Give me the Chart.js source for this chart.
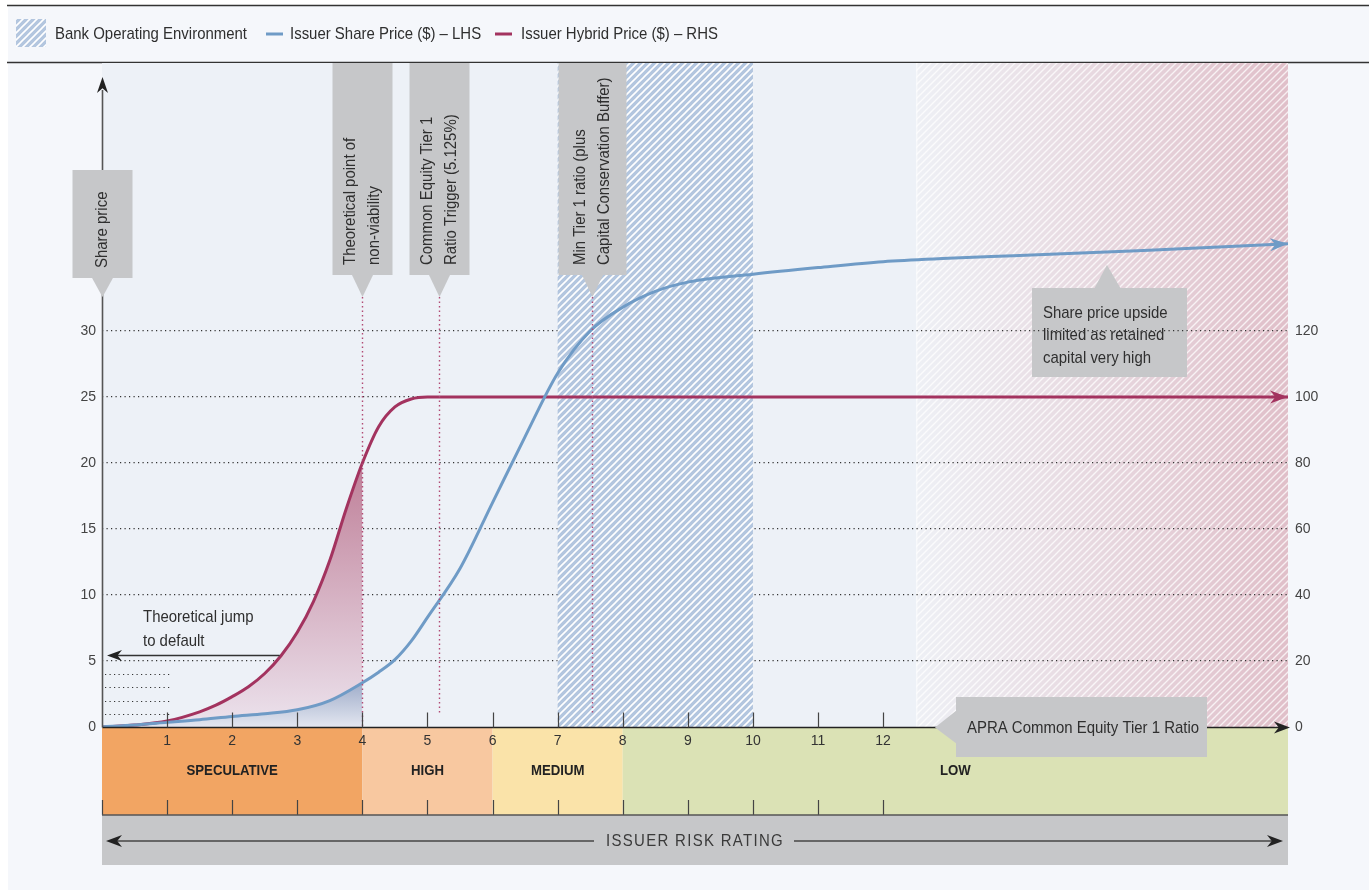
<!DOCTYPE html>
<html>
<head>
<meta charset="utf-8">
<script src="https://cdn.jsdelivr.net/npm/chart.js@4.4.1/dist/chart.umd.min.js"></script>
<style>
  html, body { margin: 0; padding: 0; background: #fff; }
  canvas { display: block; }
</style>
</head>
<body>
<canvas id="capitalChart" width="1369" height="890"></canvas>
<script>
// Issuer share / hybrid price against APRA CET1 ratio

// x = CET1 ratio (%), share price on LHS ($), hybrid price on RHS ($)
const shareX = [0, 0.5, 1, 1.5, 2, 2.5, 3, 3.5, 4, 4.25, 4.5, 4.75, 5, 5.5, 6, 6.5, 7, 7.5, 8, 8.5, 9, 10, 11, 12, 13, 14, 16, 18.22];
const shareY = [0, 0.15, 0.35, 0.55, 0.8, 1.0, 1.3, 2.0, 3.35, 4.15, 5.1, 6.5, 8.3, 12.0, 17.0, 22.0, 26.8, 30.0, 31.8, 33.0, 33.7, 34.3, 34.8, 35.25, 35.5, 35.7, 36.1, 36.6];
const hybridX = [0, 0.5, 1, 1.5, 1.75, 2, 2.25, 2.5, 2.75, 3, 3.25, 3.5, 3.75, 4, 4.25, 4.5, 4.75, 5, 8, 12, 18.22];
const hybridY = [0, 0.6, 1.8, 4.6, 6.6, 9.2, 12.2, 16.2, 21.6, 28.7, 38.1, 50.5, 66, 80, 91, 97, 99.4, 100, 100, 100, 100];

const ratioTicks = [1, 2, 3, 4, 5, 6, 7, 8, 9, 10, 11, 12];
const xMax = 18.22;
const leftMax = 50.3;
const rightMax = leftMax * 4;
const leftShown = 30;
const rightShown = 120;

const riskBands = ['SPECULATIVE', 'HIGH', 'MEDIUM', 'LOW'];
const riskEdges = [0, 4, 6, 8, xMax];
const riskColors = ['#f2a563', '#f8c8a0', '#fae3a9', '#dbe2b5'];

const bankEnvBand = [7, 10];
const lowRiskBand = [12.51, xMax];

const markerX = [4, 5.17, 7.52];
const markerText = [
  ['Theoretical point of', 'non-viability'],
  ['Common Equity Tier 1', 'Ratio Trigger (5.125%)'],
  ['Min Tier 1 ratio (plus', 'Capital Conservation Buffer)']
];
const legendText = ['Bank Operating Environment', 'Issuer Share Price ($) \u2013 LHS', 'Issuer Hybrid Price ($) \u2013 RHS'];

const BASE = '"Liberation Sans", Arial, sans-serif';
const BLUE = '#6f9bc6';
const RED = '#a3335f';
const BOX = '#c6c7c9';
const INK = '#2f2f2f';
let SX = 0.85; // horizontal squeeze to get a condensed face

function pts(xs, ys, n) {
  return xs.slice(0, n || xs.length).map((v, i) => ({ x: v, y: ys[i] }));
}

// condensed text: draw a regular face squeezed horizontally
function say(ctx, s, x, y, size, o) {
  o = o || {};
  ctx.save();
  ctx.font = (o.bold ? 'bold ' : '') + size + 'px ' + BASE;
  ctx.fillStyle = o.color || INK;
  ctx.textBaseline = 'middle';
  ctx.textAlign = 'left';
  if (o.spacing) ctx.letterSpacing = o.spacing;
  const w = ctx.measureText(s).width * SX;
  const x0 = o.align === 'center' ? x - w / 2 : o.align === 'right' ? x - w : x;
  ctx.translate(x0, y);
  ctx.scale(SX, 1);
  ctx.fillText(s, 0, 0);
  ctx.restore();
  return w;
}

function hatch(ctx, base, stripe, gap, width) {
  const c = document.createElement('canvas');
  c.width = c.height = gap;
  const g = c.getContext('2d');
  if (base) { g.fillStyle = base; g.fillRect(0, 0, gap, gap); }
  g.strokeStyle = stripe;
  g.lineWidth = width;
  g.beginPath();
  g.moveTo(-1, gap + 1); g.lineTo(gap + 1, -1);
  g.moveTo(-1, 1); g.lineTo(1, -1);
  g.moveTo(gap - 1, gap + 1); g.lineTo(gap + 1, gap - 1);
  g.stroke();
  return ctx.createPattern(c, 'repeat');
}

function arrowHead(ctx, x, y, ang, len, half, color) {
  ctx.save();
  ctx.translate(x, y);
  ctx.rotate(ang);
  ctx.fillStyle = color;
  ctx.beginPath();
  ctx.moveTo(0, 0);
  ctx.lineTo(-len, -half);
  ctx.lineTo(-len * 0.7, 0);
  ctx.lineTo(-len, half);
  ctx.closePath();
  ctx.fill();
  ctx.restore();
}

function vCallout(ctx, cx, top, bottom, w, tipY, lines) {
  ctx.fillStyle = BOX;
  ctx.fillRect(cx - w / 2, top, w, bottom - top);
  ctx.beginPath();
  ctx.moveTo(cx - 11, bottom - 1);
  ctx.lineTo(cx + 11, bottom - 1);
  ctx.lineTo(cx, tipY);
  ctx.closePath();
  ctx.fill();
  lines.forEach((t, i) => {
    const off = (i - (lines.length - 1) / 2) * 24;
    ctx.save();
    ctx.translate(cx + off, bottom - 10);
    ctx.rotate(-Math.PI / 2);
    say(ctx, t, 0, 0, 17);
    ctx.restore();
  });
}

const art = {
  id: 'art',
  beforeDraw(chart) {
    const { ctx, chartArea: a, scales: { x } } = chart;
    const W = chart.width, H = chart.height;
    ctx.save();
    // squeeze factor so the legend's first entry spans its original width
    ctx.font = '17px ' + BASE;
    SX = 192 / ctx.measureText(legendText[0]).width;

    ctx.fillStyle = '#fff';
    ctx.fillRect(0, 0, W, H);
    ctx.fillStyle = '#f5f7fb';
    ctx.fillRect(8, 6, W - 8, H - 6);

    // header rules
    ctx.strokeStyle = '#333';
    ctx.lineWidth = 1.5;
    ctx.beginPath();
    ctx.moveTo(7, 5.5); ctx.lineTo(W, 5.5);
    ctx.moveTo(7, 62.5); ctx.lineTo(W, 62.5);
    ctx.stroke();

    // legend
    ctx.fillStyle = hatch(ctx, '#b3c6df', '#fff', 7, 1.6);
    ctx.fillRect(16, 19, 30, 28);
    say(ctx, legendText[0], 55, 34, 17);
    ctx.lineWidth = 3;
    ctx.strokeStyle = BLUE;
    ctx.beginPath(); ctx.moveTo(266, 34); ctx.lineTo(283, 34); ctx.stroke();
    say(ctx, legendText[1], 290, 34, 17);
    ctx.strokeStyle = RED;
    ctx.beginPath(); ctx.moveTo(495, 34); ctx.lineTo(512, 34); ctx.stroke();
    say(ctx, legendText[2], 521, 34, 17);

    // plot background
    ctx.fillStyle = '#edf1f7';
    ctx.fillRect(a.left, a.top, a.right - a.left, a.bottom - a.top);

    // fading low-risk zone
    const g0 = x.getPixelForValue(lowRiskBand[0]), g1 = x.getPixelForValue(lowRiskBand[1]);
    const lg = ctx.createLinearGradient(g0, 0, g1, 0);
    lg.addColorStop(0, '#eef0f5');
    lg.addColorStop(1, '#e0bfc9');
    ctx.fillStyle = lg;
    ctx.fillRect(g0, a.top, g1 - g0, a.bottom - a.top);
    ctx.globalAlpha = 0.75;
    ctx.fillStyle = hatch(ctx, null, '#fff', 7, 1.4);
    ctx.fillRect(g0, a.top, g1 - g0, a.bottom - a.top);
    ctx.globalAlpha = 1;
    ctx.strokeStyle = 'rgba(255,255,255,0.8)';
    ctx.lineWidth = 1;
    ctx.beginPath(); ctx.moveTo(g0 + 0.5, a.top); ctx.lineTo(g0 + 0.5, a.bottom); ctx.stroke();

    // risk rating bands
    const bTop = a.bottom + 1, bBot = a.bottom + 88;
    riskBands.forEach((name, i) => {
      const l = x.getPixelForValue(riskEdges[i]), r = x.getPixelForValue(riskEdges[i + 1]);
      ctx.fillStyle = riskColors[i];
      ctx.fillRect(l, bTop, r - l, bBot - bTop);
      say(ctx, name, (l + r) / 2, a.bottom + 44, 15, { bold: true, align: 'center', color: '#222' });
    });
    ctx.strokeStyle = '#444';
    ctx.lineWidth = 1.2;
    ctx.beginPath();
    for (let v = 0; v <= 12; v++) {
      const px = Math.round(x.getPixelForValue(v)) + 0.5;
      ctx.moveTo(px, bBot - 15); ctx.lineTo(px, bBot);
    }
    ctx.stroke();

    // issuer risk rating bar
    const barTop = bBot, barBot = bBot + 50, midY = barTop + 26;
    ctx.fillStyle = BOX;
    ctx.fillRect(a.left, barTop, a.right - a.left, barBot - barTop);
    ctx.strokeStyle = '#555';
    ctx.lineWidth = 1.5;
    ctx.beginPath(); ctx.moveTo(a.left, barTop); ctx.lineTo(a.right, barTop); ctx.stroke();
    const cx = 695;
    const tw = say(ctx, 'ISSUER RISK RATING', cx, midY, 17, { align: 'center', color: '#3a3a3a', spacing: '1.5px' });
    ctx.strokeStyle = '#666';
    ctx.lineWidth = 2;
    ctx.beginPath();
    ctx.moveTo(a.left + 10, midY); ctx.lineTo(cx - tw / 2 - 12, midY);
    ctx.moveTo(cx + tw / 2 + 10, midY); ctx.lineTo(a.right - 10, midY);
    ctx.stroke();
    arrowHead(ctx, a.left + 4, midY, Math.PI, 16, 6, '#222');
    arrowHead(ctx, a.right - 5, midY, 0, 16, 6, '#222');

    // share price upside callout
    ctx.fillStyle = BOX;
    ctx.fillRect(1032, 288, 155, 89);
    ctx.beginPath();
    ctx.moveTo(1094, 289); ctx.lineTo(1121, 289); ctx.lineTo(1107, 265); ctx.closePath();
    ctx.fill();
    ['Share price upside', 'limited as retained', 'capital very high'].forEach((t, i) => say(ctx, t, 1043, 313 + i * 22.5, 17));
    ctx.restore();
  },
  beforeDatasetsDraw(chart) {
    const { ctx, chartArea: a, scales: { x } } = chart;
    ctx.save();
    const l = x.getPixelForValue(bankEnvBand[0]), r = x.getPixelForValue(bankEnvBand[1]);
    ctx.fillStyle = hatch(ctx, '#b3c6df', '#fff', 7, 1.6);
    ctx.fillRect(l, a.top, r - l, a.bottom - a.top);
    ctx.restore();
  },
  afterDatasetsDraw(chart) {
    const { ctx, chartArea: a, scales: { x, y, y1 } } = chart;
    ctx.save();
    const tipY = 297;

    // marker lines
    ctx.strokeStyle = '#b24a74';
    ctx.lineWidth = 1.4;
    ctx.setLineDash([1.5, 3]);
    markerX.forEach((v, i) => {
      const px = Math.round(x.getPixelForValue(v)) + 0.5;
      ctx.beginPath(); ctx.moveTo(px, tipY); ctx.lineTo(px, i === 0 ? a.bottom : a.bottom - 12); ctx.stroke();
    });

    // short guides between 0 and 5
    ctx.strokeStyle = '#333';
    ctx.lineWidth = 1.2;
    ctx.setLineDash([1.2, 3.3]);
    [1, 2, 3, 4].forEach(v => {
      const py = Math.round(y.getPixelForValue(v)) + 0.5;
      ctx.beginPath(); ctx.moveTo(a.left + 3, py); ctx.lineTo(x.getPixelForValue(1.05), py); ctx.stroke();
    });
    ctx.setLineDash([]);

    // axes
    const x0 = a.left + 0.5, y0 = Math.round(y.getPixelForValue(0)) + 0.5;
    ctx.strokeStyle = '#555';
    ctx.lineWidth = 1.6;
    ctx.beginPath(); ctx.moveTo(x0, y0); ctx.lineTo(x0, 90); ctx.stroke();
    arrowHead(ctx, x0, 77, -Math.PI / 2, 16, 5.5, '#222');
    ctx.strokeStyle = '#222';
    ctx.beginPath(); ctx.moveTo(x0, y0); ctx.lineTo(a.right - 8, y0); ctx.stroke();
    arrowHead(ctx, a.right + 2, y0, 0, 16, 6, '#222');
    ctx.strokeStyle = '#444';
    ctx.lineWidth = 1.2;
    ctx.beginPath();
    ratioTicks.forEach(v => {
      const px = Math.round(x.getPixelForValue(v)) + 0.5;
      ctx.moveTo(px, y0 - 15); ctx.lineTo(px, y0);
    });
    ctx.stroke();

    // series end arrows
    const n = shareX.length;
    const bx = x.getPixelForValue(shareX[n - 1]), by = y.getPixelForValue(shareY[n - 1]);
    const bpx = x.getPixelForValue(shareX[n - 2]), bpy = y.getPixelForValue(shareY[n - 2]);
    arrowHead(ctx, bx, by, Math.atan2(by - bpy, bx - bpx), 18, 6.5, BLUE);
    const m = hybridX.length;
    arrowHead(ctx, x.getPixelForValue(hybridX[m - 1]), y1.getPixelForValue(hybridY[m - 1]), 0, 18, 6.5, RED);

    // callouts
    vCallout(ctx, x0, 170, 278, 60, tipY, ['Share price']);
    markerX.forEach((v, i) => {
      const px = Math.round(x.getPixelForValue(v)) + 0.5;
      vCallout(ctx, px, a.top, 275, i === 2 ? 68 : 60, tipY, markerText[i]);
    });

    // jump to default
    say(ctx, 'Theoretical jump', 143, 617, 17);
    say(ctx, 'to default', 143, 641, 17);
    const jy = Math.round(y.getPixelForValue(5.45)) + 0.5;
    ctx.strokeStyle = '#333';
    ctx.lineWidth = 1.3;
    ctx.beginPath(); ctx.moveTo(x.getPixelForValue(2.73), jy); ctx.lineTo(a.left + 14, jy); ctx.stroke();
    arrowHead(ctx, a.left + 5, jy, Math.PI, 15, 5.5, '#222');

    // APRA CET1 callout
    ctx.fillStyle = BOX;
    ctx.fillRect(956, 697, 251, 60);
    ctx.beginPath();
    ctx.moveTo(957, 710); ctx.lineTo(957, 744); ctx.lineTo(935, y0); ctx.closePath();
    ctx.fill();
    say(ctx, 'APRA Common Equity Tier 1 Ratio', 967, 728, 17);
    ctx.restore();
  }
};

const ctx = document.getElementById('capitalChart');
const tickFont = { family: BASE, size: 14 };

new Chart(ctx, {
  type: 'line',
  data: {
    datasets: [
      {
        label: legendText[1],
        data: pts(shareX, shareY),
        yAxisID: 'y',
        borderColor: BLUE,
        borderWidth: 3,
        pointRadius: 0,
        cubicInterpolationMode: 'monotone',
        fill: false
      },
      {
        label: legendText[2],
        data: pts(hybridX, hybridY),
        yAxisID: 'y1',
        borderColor: RED,
        borderWidth: 3,
        pointRadius: 0,
        cubicInterpolationMode: 'monotone',
        fill: false
      },
      {
        // shaded wedge under the share price up to the non-viability point
        data: pts(shareX, shareY, 9),
        yAxisID: 'y',
        borderWidth: 0,
        pointRadius: 0,
        cubicInterpolationMode: 'monotone',
        fill: 'origin',
        backgroundColor: c => {
          const ch = c.chart;
          if (!ch.chartArea) return 'rgba(0,0,0,0)';
          const s = ch.scales.y;
          const g = ch.ctx.createLinearGradient(0, s.getPixelForValue(3.4), 0, s.getPixelForValue(0));
          g.addColorStop(0, '#9eacc9');
          g.addColorStop(1, '#e3e6f0');
          return g;
        }
      },
      {
        // shaded wedge under the hybrid price up to the non-viability point
        data: pts(hybridX, hybridY, 14),
        yAxisID: 'y1',
        borderWidth: 0,
        pointRadius: 0,
        cubicInterpolationMode: 'monotone',
        fill: 'origin',
        backgroundColor: c => {
          const ch = c.chart;
          if (!ch.chartArea) return 'rgba(0,0,0,0)';
          const s = ch.scales.y1;
          const g = ch.ctx.createLinearGradient(0, s.getPixelForValue(80), 0, s.getPixelForValue(0));
          g.addColorStop(0, '#bf7f98');
          g.addColorStop(1, '#ece3ed');
          return g;
        }
      }
    ]
  },
  options: {
    responsive: false,
    animation: false,
    layout: { padding: { left: 62, right: 41, top: 63, bottom: 133 } },
    plugins: {
      legend: { display: false },
      tooltip: { enabled: false }
    },
    scales: {
      x: {
        type: 'linear',
        min: 0,
        max: xMax,
        afterFit: s => { s.height = 30; },
        grid: { display: false, drawTicks: false },
        border: { display: false },
        ticks: {
          stepSize: 1,
          autoSkip: false,
          maxRotation: 0,
          padding: 6,
          color: '#333',
          font: tickFont,
          callback: v => ratioTicks.includes(v) ? v : ''
        }
      },
      y: {
        position: 'left',
        min: 0,
        max: leftMax,
        afterFit: s => { s.width = 40; },
        grid: {
          drawTicks: false,
          lineWidth: 1.2,
          color: c => c.tick && c.tick.value > 0 && c.tick.value <= leftShown ? '#333' : 'rgba(0,0,0,0)'
        },
        border: { display: false, dash: [1.2, 3.3] },
        ticks: {
          stepSize: 5,
          autoSkip: false,
          padding: 6,
          color: '#444',
          font: tickFont,
          callback: v => v <= leftShown ? v : ''
        }
      },
      y1: {
        position: 'right',
        min: 0,
        max: rightMax,
        afterFit: s => { s.width = 40; },
        grid: { display: false, drawTicks: false },
        border: { display: false },
        ticks: {
          stepSize: 20,
          autoSkip: false,
          padding: 7,
          color: '#444',
          font: tickFont,
          callback: v => v <= rightShown ? v : ''
        }
      }
    }
  },
  plugins: [art]
});
</script>
</body>
</html>
